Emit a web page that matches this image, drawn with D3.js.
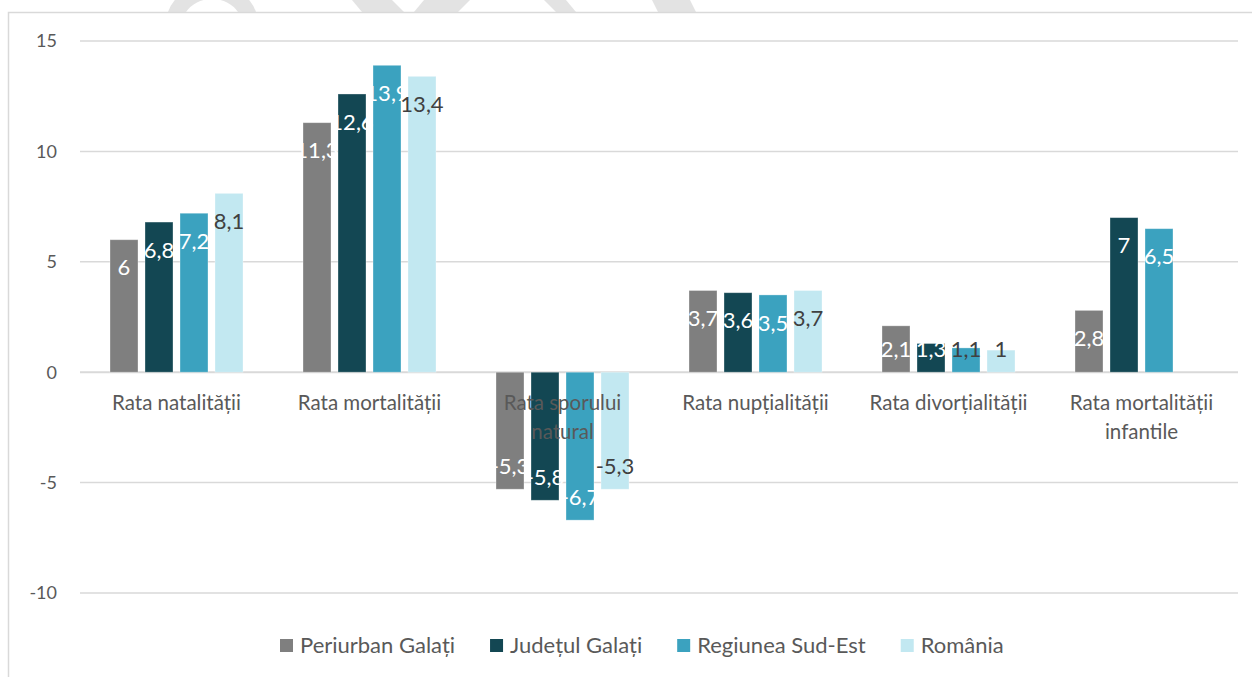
<!DOCTYPE html>
<html>
<head>
<meta charset="utf-8">
<script src="https://cdn.jsdelivr.net/npm/d3@7"></script>
<style>
  body { margin: 0; background: #fff; }
  svg { display: block; font-family: Lato, "Open Sans", sans-serif; }
</style>
</head>
<body>
<div id="chart"></div>
<script>
// data
let categories = ["Rata natalității", "Rata mortalității", "Rata sporului natural",
  "Rata nupțialității", "Rata divorțialității", "Rata mortalității infantile"];
let seriesNames = ["Periurban Galați", "Județul Galați", "Regiunea Sud-Est", "România"];
let periurban = [6, 11.3, -5.3, 3.7, 2.1, 2.8];
let judet = [6.8, 12.6, -5.8, 3.6, 1.3, 7];
let regiune = [7.2, 13.9, -6.7, 3.5, 1.1, 6.5];
let romania = [8.1, 13.4, -5.3, 3.7, 1, null];
let yTicks = [-10, -5, 0, 5, 10, 15];

let colors = ["#7f7f7f", "#134753", "#3ba2bf", "#c2e8f1"];
let allSeries = [periurban, judet, regiune, romania];

let width = 1252, height = 677;
let margin = { top: 41, right: 14, bottom: 84, left: 80 };

let svg = d3.select('#chart')
  .append('svg')
  .attr('width', width)
  .attr('height', height);

// faint watermark shapes peeking above the chart frame
let wm = svg.append('g').attr('fill', '#e3e3e3').attr('stroke', 'none');
wm.append('path').attr('d', 'M168,12 A46,40 0 0 1 256,12 L238,12 A30,26 0 0 0 186,12 Z');
wm.append('path').attr('d', 'M352,0 L392,0 L404,12 L362,12 Z');
wm.append('path').attr('d', 'M424,0 L470,0 L458,12 L414,12 Z');
wm.append('path').attr('d', 'M544,0 L566,0 L576,12 L556,12 Z');
wm.append('path').attr('d', 'M652,0 L690,0 L696,12 L658,12 Z');

// chart frame
svg.append('rect')
  .attr('x', 8.5).attr('y', 12.5)
  .attr('width', 1400).attr('height', 800)
  .attr('fill', '#fff')
  .attr('stroke', '#d9d9d9')
  .attr('stroke-width', 1.5);

let x0 = d3.scaleBand()
  .domain(categories)
  .range([margin.left, width - margin.right])
  .paddingInner(0).paddingOuter(0);

let catW = x0.bandwidth();
let x1 = d3.scaleBand()
  .domain(d3.range(seriesNames.length))
  .range([(catW - 133) / 2, (catW + 133) / 2])
  .paddingInner(0.2).paddingOuter(0);

let y = d3.scaleLinear()
  .domain([-10, 15])
  .range([593, 41]);

// gridlines
svg.append('g')
  .selectAll('line')
  .data(yTicks)
  .enter().append('line')
  .attr('x1', margin.left)
  .attr('x2', width - margin.right)
  .attr('y1', d => y(d))
  .attr('y2', d => y(d))
  .attr('stroke', '#d9d9d9')
  .attr('stroke-width', d => d === 0 ? 2 : 1.5);

// y tick labels
svg.append('g')
  .selectAll('text')
  .data(yTicks)
  .enter().append('text')
  .attr('x', 57)
  .attr('y', d => y(d))
  .attr('dy', '0.35em')
  .attr('text-anchor', 'end')
  .attr('fill', '#595959')
  .style('font-size', '18px')
  .text(d => d);

// bars
let flat = [];
allSeries.forEach((vals, si) => {
  vals.forEach((v, ci) => {
    if (v !== null) flat.push({ si: si, ci: ci, v: v });
  });
});

let bars = svg.append('g');
bars.selectAll('rect')
  .data(flat)
  .enter().append('rect')
  .attr('x', d => x0(categories[d.ci]) + x1(d.si))
  .attr('width', x1.bandwidth())
  .attr('y', d => y(Math.max(0, d.v)))
  .attr('height', d => Math.abs(y(d.v) - y(0)))
  .attr('fill', d => colors[d.si])
  .attr('stroke', '#fff')
  .attr('stroke-opacity', 0.4)
  .attr('stroke-width', 0.8);

// category labels (wrapped), drawn over the negative bars like Excel does
svg.append('g')
  .selectAll('text')
  .data(categories)
  .enter().append('text')
  .attr('x', d => x0(d) + catW / 2)
  .attr('y', 403)
  .attr('text-anchor', 'middle')
  .attr('fill', '#595959')
  .style('font-size', '20.5px')
  .text(d => d)
  .call(wrap, 168);

// value labels, "inside end"
let fmt = v => String(v).replace('.', ',');
svg.append('g')
  .selectAll('text')
  .data(flat)
  .enter().append('text')
  .attr('x', d => x0(categories[d.ci]) + x1(d.si) + x1.bandwidth() / 2)
  .attr('y', d => {
    if (d.v >= 0) return Math.min(y(d.v) + 28, y(0) - 23);
    return y(d.v) - 23;
  })
  .attr('dy', '0.35em')
  .attr('text-anchor', 'middle')
  .attr('fill', d => {
    let h = Math.abs(y(d.v) - y(0));
    return (d.si === 3 || (d.si === 2 && h < 26)) ? '#404040' : '#fff';
  })
  .style('font-size', '22px')
  .text(d => fmt(d.v));

// legend
let legend = svg.append('g').attr('transform', 'translate(0,645)');
let lx = 280;
seriesNames.forEach((name, i) => {
  legend.append('rect')
    .attr('x', lx).attr('y', -6)
    .attr('width', 13).attr('height', 13)
    .attr('fill', colors[i]);
  let t = legend.append('text')
    .attr('x', lx + 20)
    .attr('y', 0)
    .attr('dy', '0.35em')
    .attr('fill', '#595959')
    .style('font-size', '22px')
    .text(name);
  lx += 20 + t.node().getComputedTextLength() + 35;
});

function wrap(text, w) {
  text.each(function () {
    let text = d3.select(this),
      words = text.text().split(/\s+/).reverse(),
      word,
      line = [],
      x = text.attr('x'),
      tspan = text.text(null).append('tspan').attr('x', x).attr('dy', '0.35em');
    while (word = words.pop()) {
      line.push(word);
      tspan.text(line.join(' '));
      if (tspan.node().getComputedTextLength() > w && line.length > 1) {
        line.pop();
        tspan.text(line.join(' '));
        line = [word];
        tspan = text.append('tspan').attr('x', x).attr('dy', '1.4em').text(word);
      }
    }
  });
}
</script>
</body>
</html>
